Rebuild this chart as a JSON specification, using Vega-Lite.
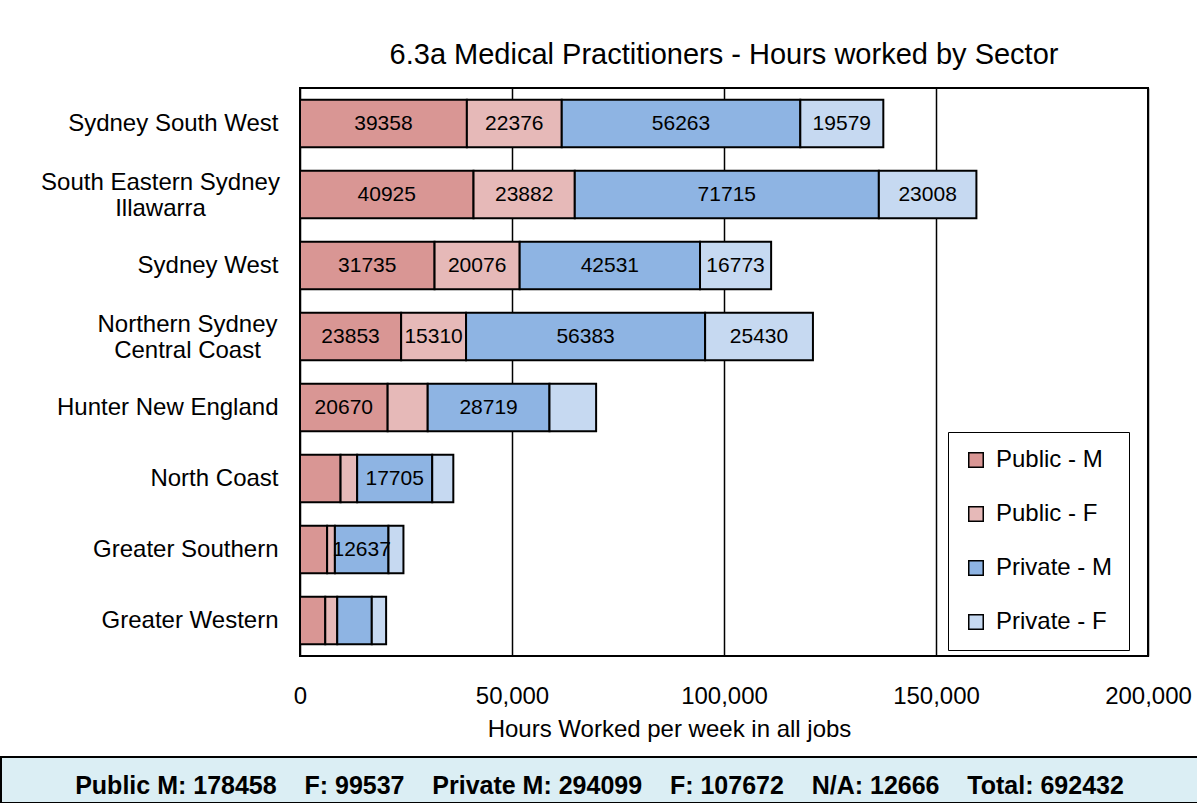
{
  "$schema": "https://vega.github.io/schema/vega-lite/v6.json",
  "background": "white",
  "padding": {"top": 40, "left": 0, "right": 0, "bottom": 0},
  "spacing": 14,
  "config": {
    "font": "Liberation Sans",
    "view": {"stroke": "black", "strokeWidth": 2}
  },
  "datasets": {
    "hours": [
      {"region": "Sydney South West", "sector": "Public - M", "hours": 39358},
      {"region": "Sydney South West", "sector": "Public - F", "hours": 22376},
      {"region": "Sydney South West", "sector": "Private - M", "hours": 56263},
      {"region": "Sydney South West", "sector": "Private - F", "hours": 19579},
      {"region": "South Eastern Sydney\nIllawarra", "sector": "Public - M", "hours": 40925},
      {"region": "South Eastern Sydney\nIllawarra", "sector": "Public - F", "hours": 23882},
      {"region": "South Eastern Sydney\nIllawarra", "sector": "Private - M", "hours": 71715},
      {"region": "South Eastern Sydney\nIllawarra", "sector": "Private - F", "hours": 23008},
      {"region": "Sydney West", "sector": "Public - M", "hours": 31735},
      {"region": "Sydney West", "sector": "Public - F", "hours": 20076},
      {"region": "Sydney West", "sector": "Private - M", "hours": 42531},
      {"region": "Sydney West", "sector": "Private - F", "hours": 16773},
      {"region": "Northern Sydney\nCentral Coast", "sector": "Public - M", "hours": 23853},
      {"region": "Northern Sydney\nCentral Coast", "sector": "Public - F", "hours": 15310},
      {"region": "Northern Sydney\nCentral Coast", "sector": "Private - M", "hours": 56383},
      {"region": "Northern Sydney\nCentral Coast", "sector": "Private - F", "hours": 25430},
      {"region": "Hunter New England", "sector": "Public - M", "hours": 20670},
      {"region": "Hunter New England", "sector": "Public - F", "hours": 9450},
      {"region": "Hunter New England", "sector": "Private - M", "hours": 28719},
      {"region": "Hunter New England", "sector": "Private - F", "hours": 11000},
      {"region": "North Coast", "sector": "Public - M", "hours": 9570},
      {"region": "North Coast", "sector": "Public - F", "hours": 3910},
      {"region": "North Coast", "sector": "Private - M", "hours": 17705},
      {"region": "North Coast", "sector": "Private - F", "hours": 4975},
      {"region": "Greater Southern", "sector": "Public - M", "hours": 6400},
      {"region": "Greater Southern", "sector": "Public - F", "hours": 1830},
      {"region": "Greater Southern", "sector": "Private - M", "hours": 12637},
      {"region": "Greater Southern", "sector": "Private - F", "hours": 3530},
      {"region": "Greater Western", "sector": "Public - M", "hours": 5960},
      {"region": "Greater Western", "sector": "Public - F", "hours": 2820},
      {"region": "Greater Western", "sector": "Private - M", "hours": 8150},
      {"region": "Greater Western", "sector": "Private - F", "hours": 3380}
    ],
    "footer": [
      {"text": "Public M: 178458\u00a0\u00a0\u00a0\u00a0F: 99537\u00a0\u00a0\u00a0\u00a0Private M: 294099\u00a0\u00a0\u00a0\u00a0F: 107672\u00a0\u00a0\u00a0\u00a0N/A: 12666\u00a0\u00a0\u00a0\u00a0Total: 692432"}
    ],
    "empty": []
  },
  "vconcat": [
    {
      "spacing": 0,
      "hconcat": [
        {
          "width": 1,
          "height": 1,
          "view": {"stroke": null},
          "data": {"name": "empty"},
          "mark": {"type": "point", "opacity": 0},
          "encoding": {}
        },
        {
          "width": 848,
          "height": 568,
          "title": {
            "text": "6.3a Medical Practitioners - Hours worked by Sector",
            "fontSize": 29,
            "fontWeight": "normal",
            "color": "black",
            "anchor": "middle",
            "baseline": "alphabetic",
            "offset": -5
          },
          "data": {"name": "hours"},
          "encoding": {
            "y": {
              "field": "region",
              "type": "nominal",
              "sort": ["Sydney South West", "South Eastern Sydney\nIllawarra", "Sydney West", "Northern Sydney\nCentral Coast", "Hunter New England", "North Coast", "Greater Southern", "Greater Western"],
              "scale": {"paddingInner": 0.33, "paddingOuter": 0.165},
              "axis": {
                "title": null,
                "ticks": false,
                "tickSize": 0,
                "domain": false,
                "grid": false,
                "labelFontSize": 24,
                "labelColor": "black",
                "labelLimit": 320,
                "labelLineHeight": 26,
                "labelExpr": "split(datum.label, '\\n')",
                "labelAlign": {"condition": {"test": "indexof(datum.value, '\\n') >= 0", "value": "center"}, "value": "right"},
                "labelOffset": {"condition": {"test": "indexof(datum.value, '\\n') >= 0", "value": -12}, "value": 0},
                "labelPadding": {"condition": [
                  {"test": "indexof(datum.value, 'South Eastern') >= 0", "value": 140},
                  {"test": "indexof(datum.value, 'Northern Sydney') >= 0", "value": 113}
                ], "value": 22},
                "minExtent": 297
              }
            }
          },
          "layer": [
            {
              "mark": {"type": "bar", "stroke": "black", "strokeWidth": 2},
              "encoding": {
                "x": {
                  "field": "hours",
                  "type": "quantitative",
                  "stack": "zero",
                  "scale": {"domain": [0, 200000]},
                  "axis": {
                    "values": [0, 50000, 100000, 150000, 200000],
                    "format": ",d",
                    "grid": true,
                    "gridColor": "black",
                    "gridWidth": 1.5,
                    "gridOpacity": 1,
                    "ticks": false,
                    "tickSize": 0,
                    "domain": false,
                    "labelFontSize": 24,
                    "labelColor": "black",
                    "labelPadding": 28,
                    "labelFlush": false,
                    "title": "Hours Worked per week in all jobs",
                    "titleFontSize": 24,
                    "titleFontWeight": "normal",
                    "titleColor": "black",
                    "titlePadding": 9,
                    "titleX": 369
                  }
                },
                "color": {
                  "field": "sector",
                  "type": "nominal",
                  "scale": {
                    "domain": ["Public - M", "Public - F", "Private - M", "Private - F"],
                    "range": ["#d99694", "#e6b9b8", "#8eb4e3", "#c6d9f1"]
                  },
                  "legend": {
                    "title": null,
                    "orient": "none",
                    "legendX": 947,
                    "legendY": 344,
                    "direction": "vertical",
                    "labelFontSize": 24,
                    "labelColor": "black",
                    "labelOffset": 8,
                    "symbolType": "square",
                    "symbolSize": 210,
                    "symbolStrokeColor": "black",
                    "symbolStrokeWidth": 1.5,
                    "rowPadding": 30,
                    "padding": 16,
                    "strokeColor": "black",
                    "fillColor": "white"
                  }
                },
                "order": {"field": "sector", "sort": "descending"}
              }
            },
            {
              "mark": {"type": "text", "fontSize": 21, "color": "black"},
              "encoding": {
                "x": {"field": "hours", "type": "quantitative", "stack": "zero", "bandPosition": 0.5},
                "detail": {"field": "sector"},
                "order": {"field": "sector", "sort": "descending"},
                "text": {
                  "condition": {"test": "datum.hours >= 12000", "field": "hours", "type": "quantitative", "format": "d"},
                  "value": ""
                }
              }
            }
          ]
        }
      ]
    },
    {
      "width": 1197,
      "height": 46,
      "data": {"name": "footer"},
      "view": {"fill": "#dbeef4", "stroke": "black", "strokeWidth": 2},
      "mark": {
        "type": "text",
        "font": "Liberation Sans",
        "fontSize": 25,
        "fontWeight": "bold",
        "color": "black",
        "baseline": "middle",
        "dy": 6
      },
      "encoding": {
        "text": {"field": "text", "type": "nominal"}
      }
    }
  ]
}
